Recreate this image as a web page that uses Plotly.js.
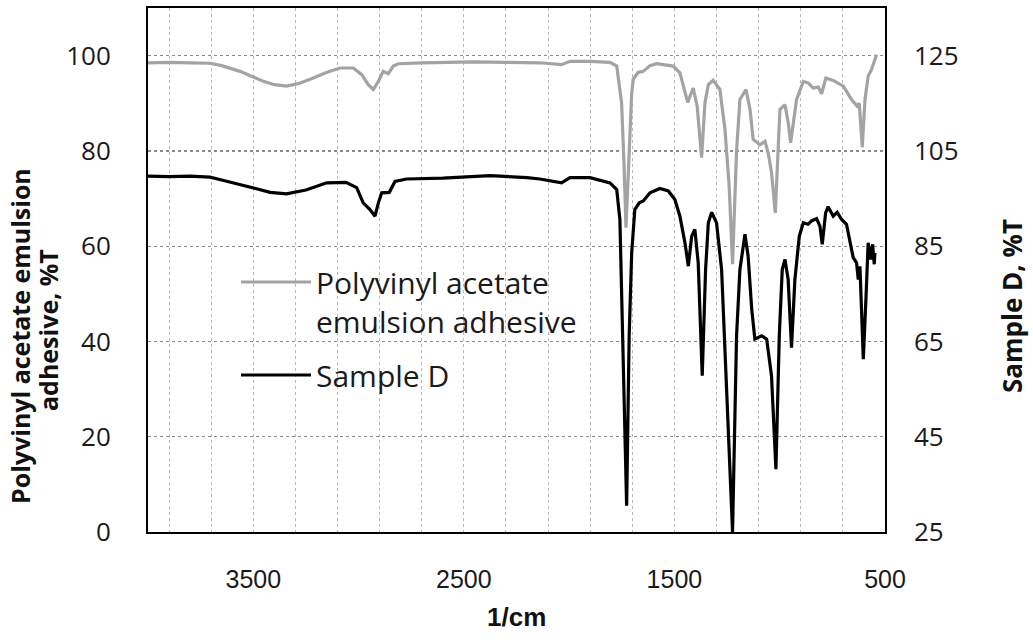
<!DOCTYPE html>
<html>
<head>
<meta charset="utf-8">
<script src="https://cdn.plot.ly/plotly-3.0.1.min.js"></script>
<style>html,body{margin:0;padding:0;background:#fff;}#chart{width:1033px;height:640px;}</style>
</head>
<body>
<div id="chart"></div>
<script>
// Polyvinyl acetate emulsion adhesive (left axis, %T)
const pvacWavenumber = [4000,3900,3800,3706,3650,3563,3452,3400,3342,3280,3215,3150,3088,3025,2985,2954,2930,2906,2883,2870,2859,2835,2811,2700,2600,2457,2300,2139,2036,1996,1900,1806,1774,1751,1740,1730,1715,1703,1696,1672,1648,1616,1584,1506,1474,1458,1437,1411,1392,1371,1355,1339,1316,1284,1260,1240,1224,1205,1189,1160,1141,1126,1094,1070,1055,1039,1021,999,975,960,948,920,888,865,841,817,801,781,746,698,659,632,622,608,595,580,564,540];
const pvacT = [98.5,98.6,98.5,98.4,97.9,96.7,94.6,93.9,93.6,94.2,95.3,96.5,97.4,97.4,96.0,93.9,92.9,94.6,96.7,96.4,96.2,97.8,98.3,98.5,98.6,98.7,98.6,98.5,98.1,98.8,98.8,98.6,97.8,90.1,78.0,63.9,79.6,92.0,95.0,96.5,96.7,97.9,98.3,97.8,96.4,93.6,90.2,93.2,89.4,78.6,90.1,93.9,94.8,92.9,84.5,72.6,56.2,80.0,90.8,92.9,88.7,82.4,81.3,82.0,79.6,75.5,67.0,88.7,89.7,86.0,81.7,90.8,94.6,94.3,93.2,93.4,92.0,95.3,94.8,93.6,90.8,89.4,90.0,80.8,90.8,95.7,97.1,100.2];

// Sample D (right axis, %T)
const sampleDWavenumber = [4000,3900,3800,3706,3650,3563,3480,3420,3342,3250,3151,3060,3009,2978,2946,2922,2906,2890,2854,2827,2772,2600,2376,2200,2139,2036,1996,1901,1806,1774,1759,1746,1727,1715,1703,1688,1667,1648,1616,1569,1529,1498,1474,1450,1434,1418,1403,1387,1368,1352,1339,1323,1300,1276,1252,1224,1205,1189,1165,1150,1133,1118,1086,1062,1039,1018,1002,988,975,960,944,928,907,888,865,849,825,809,798,782,770,746,727,706,683,667,651,635,627,619,603,590,580,568,559,551,548];
const sampleDT = [99.7,99.6,99.7,99.5,98.9,98.0,97.0,96.3,96.0,96.8,98.3,98.4,97.3,94.1,92.7,91.3,94.1,96.2,96.3,98.6,99.1,99.3,99.8,99.4,99.1,98.3,99.4,99.4,98.3,96.9,90.6,66.2,30.5,66.2,83.6,92.7,94.1,94.5,96.2,97.1,96.6,94.8,91.3,85.7,80.8,87.1,88.5,81.5,57.8,80.1,89.9,92.1,89.9,80.1,55.7,25.0,66.2,80.1,87.5,82.9,71.8,65.5,66.2,65.5,57.8,38.2,66.2,80.1,82.2,78.0,63.7,78.0,87.1,89.9,89.6,90.3,90.8,89.2,85.4,92.0,93.3,91.3,92.1,90.6,89.6,86.4,82.6,81.5,78.0,80.8,61.3,74.5,85.7,82.2,85.4,81.2,83.6];

const xTickVals = [3500,2500,1500,500];
const leftTickVals = [0,20,40,60,80,100];
const rightTickVals = [25,45,65,85,105,125];

const F = '"Open Sans", "Noto Sans", sans-serif';
const FN = '"Liberation Sans Narrow", "Liberation Sans", sans-serif';

const traces = [
  {x: pvacWavenumber, y: pvacT, type:'scatter', mode:'lines', name:'Polyvinyl acetate<br>emulsion adhesive',
   legendgroup:'pvac', line:{color:'#a3a3a3', width:3.2}, yaxis:'y'},
  {x: sampleDWavenumber, y: sampleDT, type:'scatter', mode:'lines', name:'Sample D',
   legendgroup:'sampled', line:{color:'#000000', width:3.2}, yaxis:'y2'}
];

const W = 1033, H = 640, L = 148, R = 148, T = 8, B = 108;
const pw = W - L - R, ph = H - T - B;
const px = v => (v - L) / pw;
const py = v => (H - B - v) / ph;

const layout = {
  width: W, height: H,
  margin: {l: L, r: R, t: T, b: B, pad: 0},
  paper_bgcolor: '#fff', plot_bgcolor: '#fff',
  showlegend: true,
  legend: {x: px(236), y: py(256), xanchor:'left', yanchor:'top', bgcolor:'rgba(0,0,0,0)',
           font:{family:F, size:30, color:'#1a1a1a'}, valign:'top', tracegroupgap: 12, itemwidth: 70},
  xaxis: {range:[4000,500], tickmode:'array', tickvals: xTickVals, ticks:'', ticklabelstandoff: 24,
          tickfont:{family:FN, size:25, color:'#1a1a1a'},
          showgrid:true, gridcolor:'#b8b8b8', griddash:'dot', gridwidth:1,
          minor:{tick0:500, dtick:200, showgrid:true, gridcolor:'#b8b8b8', griddash:'dot', gridwidth:1, ticks:''},
          showline:true, mirror:true, linecolor:'#000', linewidth:2, zeroline:false},
  yaxis: {range:[0,110], tickmode:'array', tickvals: leftTickVals, ticks:'', ticklabelstandoff: 30,
          tickfont:{family:F, size:26, color:'#1a1a1a'},
          showgrid:true, gridcolor:'#8a8a8a', griddash:'dot', gridwidth:1.2,
          showline:true, mirror:true, linecolor:'#000', linewidth:2, zeroline:false},
  yaxis2: {range:[25,135], overlaying:'y', side:'right', tickmode:'array', tickvals: rightTickVals, ticks:'',
           ticklabelstandoff: 28, tickfont:{family:F, size:26, color:'#1a1a1a'},
           showgrid:false, showline:false, zeroline:false},
  annotations: [
    {text:'<b>Polyvinyl acetate emulsion</b>', xref:'paper', yref:'paper', x: px(20), y: py(336),
     xanchor:'center', yanchor:'middle', textangle:-90, showarrow:false,
     font:{family:F, size:25, color:'#111'}},
    {text:'<b>adhesive, %T</b>', xref:'paper', yref:'paper', x: px(48), y: py(330),
     xanchor:'center', yanchor:'middle', textangle:-90, showarrow:false,
     font:{family:F, size:25, color:'#111'}},
    {text:'<b>Sample D, %T</b>', xref:'paper', yref:'paper', x: px(1012), y: py(306),
     xanchor:'center', yanchor:'middle', textangle:-90, showarrow:false,
     font:{family:F, size:26, color:'#111'}},
    {text:'<b>1/cm</b>', xref:'paper', yref:'paper', x: px(516), y: py(617),
     xanchor:'center', yanchor:'middle', showarrow:false,
     font:{family:FN, size:26, color:'#111'}}
  ]
};

Plotly.newPlot('chart', traces, layout, {displayModeBar:false, staticPlot:true});
</script>
</body>
</html>
